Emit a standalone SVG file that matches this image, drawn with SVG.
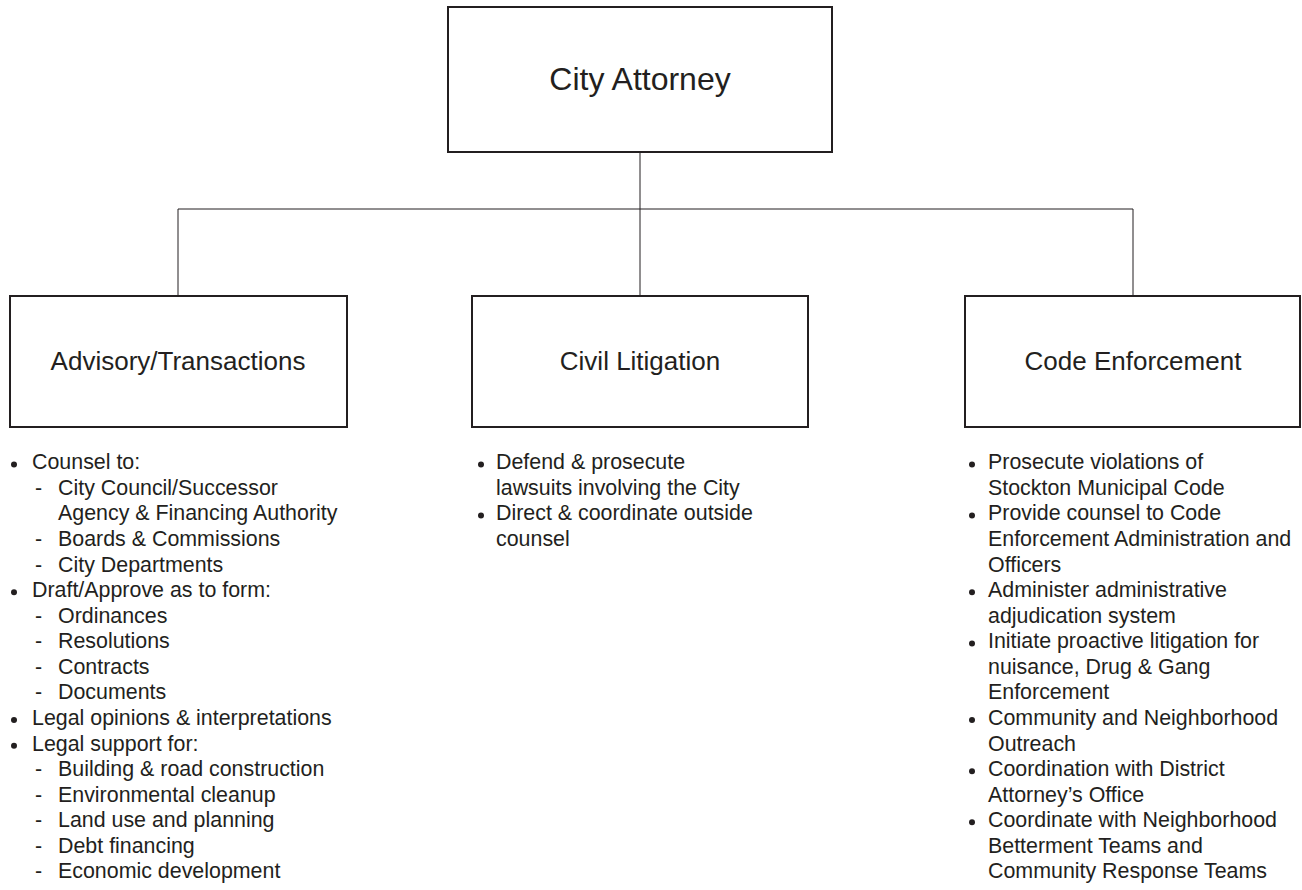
<svg xmlns="http://www.w3.org/2000/svg" width="1302" height="890" viewBox="0 0 1302 890">
<style>
  .box { fill: #ffffff; stroke: #231f20; stroke-width: 2; }
  .conn { fill: none; stroke: #231f20; stroke-width: 1; }
  .title { font-family: "Liberation Sans", Arial, sans-serif; fill: #231f20; text-anchor: middle; }
  .t1 { font-size: 32px; }
  .t2 { font-size: 26px; }
  .item { font-family: "Liberation Sans", Arial, sans-serif; font-size: 21.4px; fill: #231f20; }
  .bul { fill: #231f20; }
</style>
<rect width="1302" height="890" fill="#ffffff"/>
<g id="connectors">
  <line class="conn" x1="640" y1="152" x2="640" y2="296"/>
  <line class="conn" x1="178" y1="209" x2="1133" y2="209"/>
  <line class="conn" x1="178" y1="209" x2="178" y2="296"/>
  <line class="conn" x1="1133" y1="209" x2="1133" y2="296"/>
</g>
<g id="city-attorney">
  <rect class="box" x="448" y="7" width="384" height="145"/>
  <text class="title t1" x="640" y="90">City Attorney</text>
</g>
<g id="advisory">
  <rect class="box" x="10" y="296" width="337" height="131"/>
  <text class="title t2" x="178" y="370">Advisory/Transactions</text>
</g>
<g id="civil-litigation">
  <rect class="box" x="472" y="296" width="336" height="131"/>
  <text class="title t2" x="640" y="370">Civil Litigation</text>
</g>
<g id="code-enforcement">
  <rect class="box" x="965" y="296" width="335" height="131"/>
  <text class="title t2" x="1133" y="370">Code Enforcement</text>
</g>
<g id="advisory-list">
  <circle class="bul" cx="14" cy="464.5" r="3"/>
  <circle class="bul" cx="14" cy="592.3" r="3"/>
  <circle class="bul" cx="14" cy="720.1" r="3"/>
  <circle class="bul" cx="14" cy="745.7" r="3"/>
  <text class="item" x="32" y="469.3">Counsel to:</text>
  <text class="item" x="35" y="494.9">-</text><text class="item" x="58" y="494.9">City Council/Successor</text>
  <text class="item" x="58" y="520.4">Agency &amp; Financing Authority</text>
  <text class="item" x="35" y="546">-</text><text class="item" x="58" y="546">Boards &amp; Commissions</text>
  <text class="item" x="35" y="571.5">-</text><text class="item" x="58" y="571.5">City Departments</text>
  <text class="item" x="32" y="597.1">Draft/Approve as to form:</text>
  <text class="item" x="35" y="622.7">-</text><text class="item" x="58" y="622.7">Ordinances</text>
  <text class="item" x="35" y="648.2">-</text><text class="item" x="58" y="648.2">Resolutions</text>
  <text class="item" x="35" y="673.8">-</text><text class="item" x="58" y="673.8">Contracts</text>
  <text class="item" x="35" y="699.3">-</text><text class="item" x="58" y="699.3">Documents</text>
  <text class="item" x="32" y="724.9">Legal opinions &amp; interpretations</text>
  <text class="item" x="32" y="750.5">Legal support for:</text>
  <text class="item" x="35" y="776">-</text><text class="item" x="58" y="776">Building &amp; road construction</text>
  <text class="item" x="35" y="801.6">-</text><text class="item" x="58" y="801.6">Environmental cleanup</text>
  <text class="item" x="35" y="827.1">-</text><text class="item" x="58" y="827.1">Land use and planning</text>
  <text class="item" x="35" y="852.7">-</text><text class="item" x="58" y="852.7">Debt financing</text>
  <text class="item" x="35" y="878.3">-</text><text class="item" x="58" y="878.3">Economic development</text>
</g>
<g id="civil-list">
  <circle class="bul" cx="481" cy="464.5" r="3"/>
  <circle class="bul" cx="481" cy="515.6" r="3"/>
  <text class="item" x="496" y="469.3">Defend &amp; prosecute</text>
  <text class="item" x="496" y="494.9">lawsuits involving the City</text>
  <text class="item" x="496" y="520.4">Direct &amp; coordinate outside</text>
  <text class="item" x="496" y="546">counsel</text>
</g>
<g id="code-list">
  <circle class="bul" cx="972" cy="464.5" r="3"/>
  <circle class="bul" cx="972" cy="515.6" r="3"/>
  <circle class="bul" cx="972" cy="592.3" r="3"/>
  <circle class="bul" cx="972" cy="643.4" r="3"/>
  <circle class="bul" cx="972" cy="720.1" r="3"/>
  <circle class="bul" cx="972" cy="771.2" r="3"/>
  <circle class="bul" cx="972" cy="822.3" r="3"/>
  <text class="item" x="988" y="469.3">Prosecute violations of</text>
  <text class="item" x="988" y="494.9">Stockton Municipal Code</text>
  <text class="item" x="988" y="520.4">Provide counsel to Code</text>
  <text class="item" x="988" y="546">Enforcement Administration and</text>
  <text class="item" x="988" y="571.5">Officers</text>
  <text class="item" x="988" y="597.1">Administer administrative</text>
  <text class="item" x="988" y="622.7">adjudication system</text>
  <text class="item" x="988" y="648.2">Initiate proactive litigation for</text>
  <text class="item" x="988" y="673.8">nuisance, Drug &amp; Gang</text>
  <text class="item" x="988" y="699.3">Enforcement</text>
  <text class="item" x="988" y="724.9">Community and Neighborhood</text>
  <text class="item" x="988" y="750.5">Outreach</text>
  <text class="item" x="988" y="776">Coordination with District</text>
  <text class="item" x="988" y="801.6">Attorney’s Office</text>
  <text class="item" x="988" y="827.1">Coordinate with Neighborhood</text>
  <text class="item" x="988" y="852.7">Betterment Teams and</text>
  <text class="item" x="988" y="878.3">Community Response Teams</text>
</g>
</svg>
